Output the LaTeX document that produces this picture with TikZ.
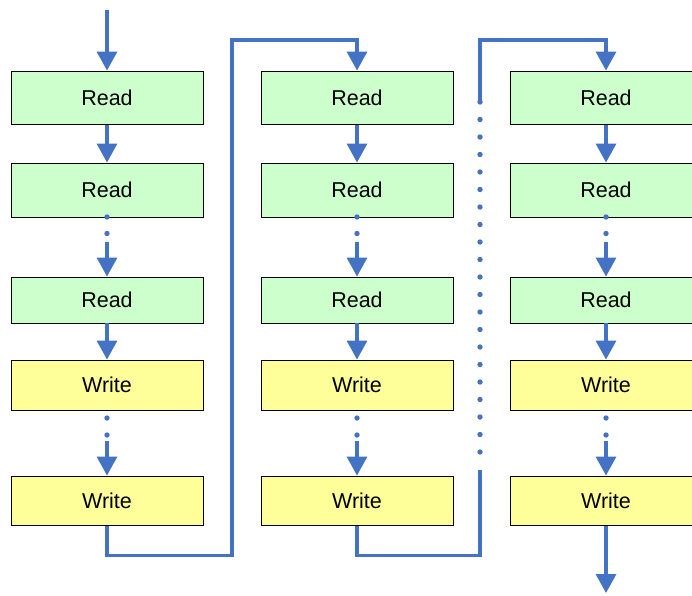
\documentclass[tikz,border=0pt]{standalone}
\usepackage{fontspec}
\setmainfont{Liberation Sans}
\usetikzlibrary{arrows.meta}
\definecolor{flowblue}{RGB}{68,114,196}
\definecolor{readfill}{RGB}{204,255,204}
\definecolor{writefill}{RGB}{255,255,153}
\tikzset{
  opbox/.style={draw=black, line width=0.9pt, minimum width=192pt, inner sep=0pt,
    font=\fontsize{21.5}{25}\selectfont},
  readbox/.style={opbox, fill=readfill},
  writebox/.style={opbox, fill=writefill},
  flow/.style={draw=flowblue, line width=3.2pt},
  flowarrow/.style={flow, -{Triangle[width=20pt,length=19pt]}},
  dotmark/.style={fill=flowblue, draw=none},
  dotrun/.style={draw=flowblue, line width=5.4pt, line cap=round, dash pattern=on 0pt off 17.5pt}
}
\begin{document}
\begin{tikzpicture}[x=1pt,y=-1pt]
\useasboundingbox (0,0) rectangle (692,595);

% three identical pipelines of operations
\foreach \c/\x in {a/107, b/357, c/606} {
  \node[readbox,  minimum height=53.5pt] (\c1) at (\x,97.75)  {Read};
  \node[readbox,  minimum height=54pt]   (\c2) at (\x,190)    {Read};
  \node[readbox,  minimum height=46pt]   (\c3) at (\x,300)    {Read};
  \node[writebox, minimum height=50.5pt] (\c4) at (\x,385.25) {Write};
  \node[writebox, minimum height=49.5pt] (\c5) at (\x,500.75) {Write};

  % steps inside a pipeline
  \draw[flowarrow] (\c1.south) -- (\c2.north);
  \draw[flowarrow] (\c3.south) -- (\c4.north);

  % elided reads
  \fill[dotmark] (\x,217) circle (2.7pt);
  \fill[dotmark] (\x,233.5) circle (2.7pt);
  \coordinate (\c23) at (\x,241.5);
  \draw[flowarrow] (\c23) -- (\c3.north);

  % elided writes
  \fill[dotmark] (\x,418) circle (2.7pt);
  \fill[dotmark] (\x,435) circle (2.7pt);
  \coordinate (\c45) at (\x,441);
  \draw[flowarrow] (\c45) -- (\c5.north);
}

% entry and exit
\coordinate (in)  at (107,10);
\coordinate (out) at (606,593);
\draw[flowarrow] (in) -- (a1.north);
\draw[flowarrow] (c5.south) -- (out);

% first pipeline feeds the second
\coordinate (l1a) at (107,555.5);
\coordinate (l1b) at (232,555.5);
\coordinate (l1c) at (232,40);
\coordinate (l1d) at (357,40);
\draw[flowarrow] (a5.south) -- (l1a) -- (l1b) -- (l1c) -- (l1d) -- (b1.north);

% second pipeline feeds the third, through elided ones
\coordinate (l2a) at (357,555.5);
\coordinate (l2b) at (480,555.5);
\coordinate (l2c) at (480,469.5);
\coordinate (l2d) at (480,102);
\coordinate (l2e) at (480,40);
\coordinate (l2f) at (606,40);
\draw[flow] (b5.south) -- (l2a) -- (l2b) -- (l2c);
\draw[dotrun] (l2d) -- (480,453);
\draw[flowarrow, line cap=round] (l2d) -- (l2e) -- (l2f) -- (c1.north);
\end{tikzpicture}
\end{document}
